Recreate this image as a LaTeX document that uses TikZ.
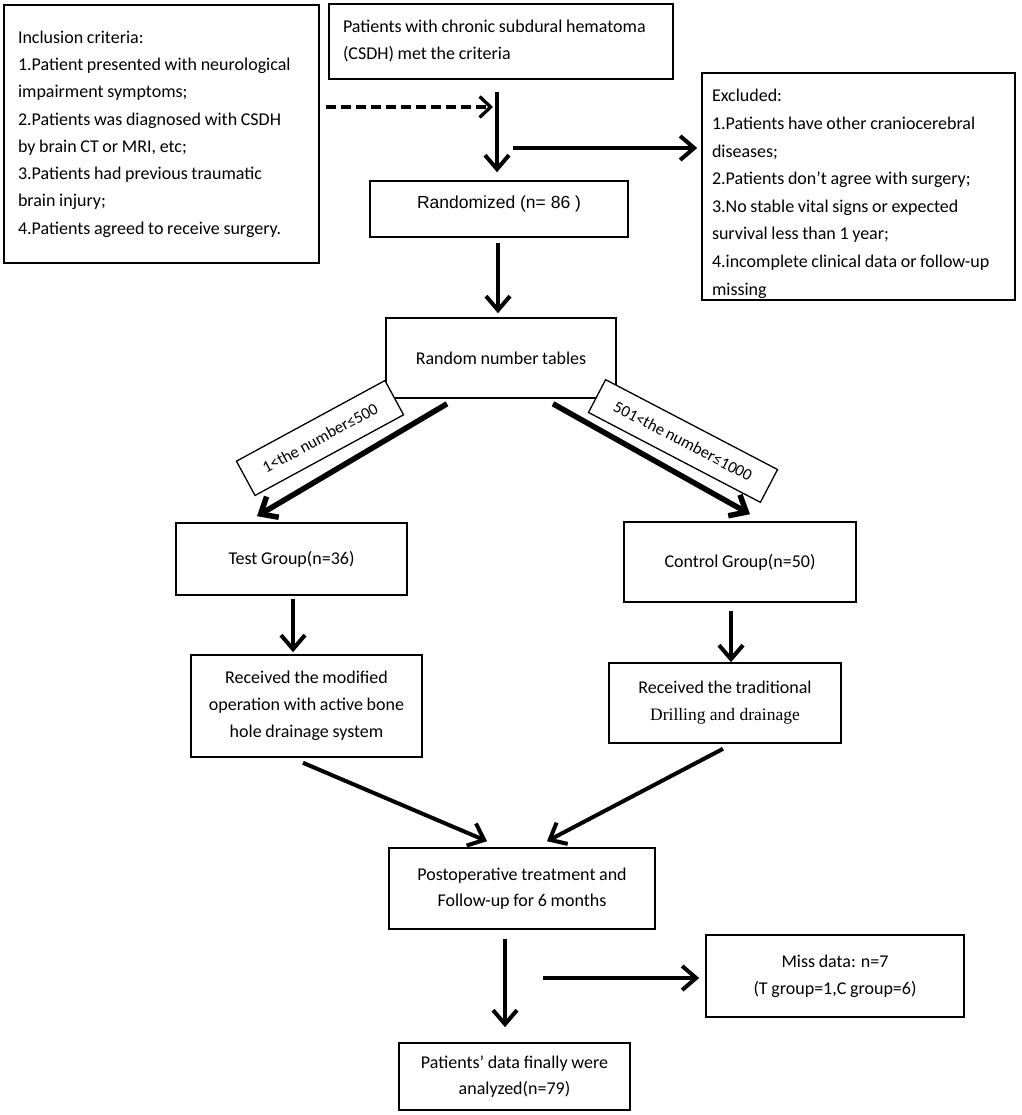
\documentclass[tikz,border=0pt]{standalone}
\usepackage{fontspec}
\setmainfont{Carlito}[WordSpace=0.9]
\newfontfamily\serifalt{Liberation Serif}
\newfontfamily\arialalt{Liberation Sans}
\usetikzlibrary{arrows.meta}
\newcommand\fs[1]{\fontsize{18}{#1}\selectfont}
\begin{document}
\begin{tikzpicture}[x=1pt,y=-1pt,
  box/.style={draw, line width=1.6pt, inner sep=0pt, text=black},
  lbox/.style={box, align=flush left},
  cbox/.style={box, align=center},
  arr/.style={line width=4pt, -{Straight Barb[length=14pt,width=24pt]}},
  darr/.style={arr, line width=5.5pt},
  dasharr/.style={line width=3.3pt, dash pattern=on 10pt off 5pt, -{Straight Barb[length=11pt,width=21pt]}},
  lab/.style={draw, line width=1.3pt, fill=white, inner sep=0pt, font=\fontsize{16.5}{19}\selectfont}]
\useasboundingbox (0,0) rectangle (1021,1115);

\node[lbox, minimum width=315, minimum height=258, text width=287, font=\fs{27.3}] (inc) at (161.5,134)
 {Inclusion criteria:\\1.Patient presented with neurological\\impairment symptoms;\\2.Patients was diagnosed with CSDH\\by brain CT or MRI, etc;\\3.Patients had previous traumatic\\brain injury;\\4.Patients agreed to receive surgery.};

\node[lbox, minimum width=344, minimum height=75, text width=316, font=\fs{27}] (top) at (501,41.5)
 {Patients with chronic subdural hematoma\\(CSDH) met the criteria};

\node[lbox, minimum width=313, minimum height=227, text width=293, font=\fs{27.6}] (excl) at (858.5,186.5)
 {\rule{0pt}{27pt}Excluded:\\1.Patients have other craniocerebral\\diseases;\\2.Patients don’t agree with surgery;\\3.No stable vital signs or expected\\survival less than 1 year;\\4.incomplete clinical data or follow-up\\missing};

\node[cbox, minimum width=258, minimum height=56, font=\arialalt\fontsize{17.5}{21}\selectfont] (rand) at (499,209)
 {\raisebox{14pt}{Randomized (n= 86 )}};

\node[cbox, minimum width=230, minimum height=80, font=\fs{21}] (tables) at (501,358)
 {Random number tables};

\node[cbox, minimum width=231, minimum height=72, font=\fs{21}] (test) at (291.5,559)
 {Test Group(n=36)};

\node[cbox, minimum width=232, minimum height=80, font=\fs{21}] (control) at (740,562)
 {Control Group(n=50)};

\node[cbox, minimum width=231, minimum height=102, font=\fs{27}] (mod) at (306.5,706)
 {Received the modified\\operation with active bone\\hole drainage system};

\node[cbox, minimum width=232, minimum height=80, font=\fs{27}] (trad) at (725,703)
 {Received the traditional\\{\serifalt\fontsize{17.5}{27}\selectfont Drilling and drainage}};

\node[cbox, minimum width=266, minimum height=81, font=\fs{26}] (post) at (522,888.5)
 {Postoperative treatment and\\Follow-up for 6 months};

\node[cbox, minimum width=258, minimum height=82, font=\fs{27}] (miss) at (835,976)
 {Miss data: n=7\\(T group=1,C group=6)};

\node[cbox, minimum width=231, minimum height=67, font=\fs{26}] (final) at (514.5,1076.5)
 {Patients’ data finally were\\analyzed(n=79)};

\coordinate (dashend) at (493,107);
\coordinate (exstart) at (513,148);
\coordinate (mstart) at (543,978);

\draw[dasharr, shorten <=6pt] ([yshift=27pt]inc.east) -- (dashend);
\draw[arr, shorten <=12pt, shorten >=8pt] ([xshift=-4pt]top.south) -- ([xshift=-2pt]rand.north);
\draw[arr, shorten >=4pt] (exstart) -- ([yshift=38.5pt]excl.west);
\draw[arr, shorten <=5pt, shorten >=4pt] ([xshift=-1pt]rand.south) -- ([xshift=-3pt]tables.north);
\draw[darr] ([xshift=-54pt,yshift=-5pt]tables.south) -- ([xshift=-34.5pt,yshift=6pt]test.north);
\draw[darr] ([xshift=52pt,yshift=-5pt]tables.south) -- ([xshift=10pt,yshift=7pt]control.north);
\draw[arr, shorten <=3pt, shorten >=2pt] ([xshift=1.5pt]test.south) -- ([xshift=-13.5pt]mod.north);
\draw[arr, shorten <=8pt] ([xshift=-9pt]control.south) -- ([xshift=6pt]trad.north);
\draw[arr] ([xshift=-3.5pt,yshift=-5pt]mod.south) -- ([xshift=-35pt,yshift=6pt]post.north);
\draw[arr] ([xshift=-2pt,yshift=-5pt]trad.south) -- ([xshift=25pt,yshift=6pt]post.north);
\draw[arr, shorten <=9pt] ([xshift=-17pt]post.south) -- ([xshift=-9.5pt,yshift=15pt]final.north);
\draw[arr, shorten >=6pt] (mstart) -- ([yshift=-2pt]miss.west);

\node[lab, rotate=28.5, minimum width=169, minimum height=39] (lab1) at (320,438) {1<the number≤500};
\node[lab, rotate=-27.6, minimum width=194, minimum height=37] (lab2) at (683,441) {501<the number≤1000};
\end{tikzpicture}
\end{document}
